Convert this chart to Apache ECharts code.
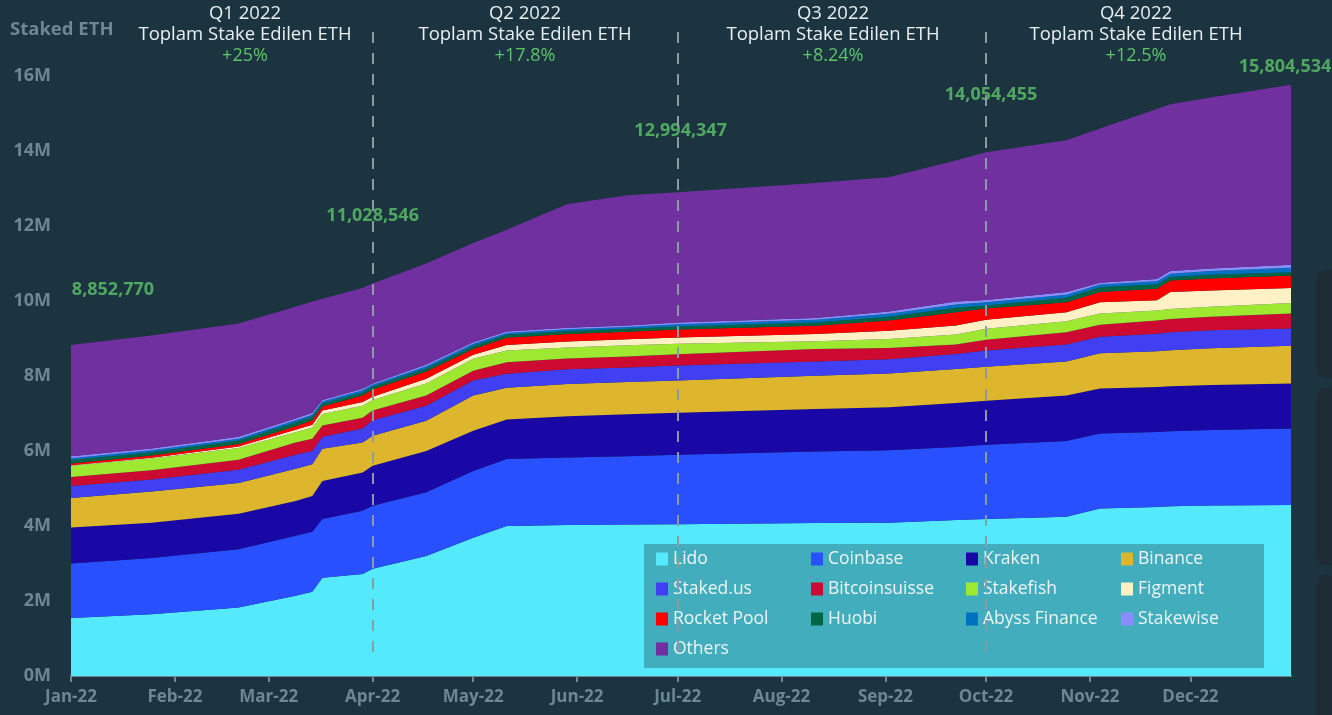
<!DOCTYPE html>
<html><head><meta charset="utf-8">
<script src="https://cdn.jsdelivr.net/npm/echarts@6/dist/echarts.min.js"></script>
<style>html,body{margin:0;padding:0;background:#1b3440;}#c{width:1332px;height:715px;}</style>
</head><body><div id="c"></div>
<script>
// ---- data (values in millions of ETH) ----
const dates = ['2022-01-01','2022-01-25','2022-02-20','2022-03-09','2022-03-14','2022-03-17','2022-03-29','2022-04-01',
  '2022-04-17','2022-05-01','2022-05-11','2022-05-29','2022-06-16','2022-07-01','2022-08-11','2022-09-02',
  '2022-09-22','2022-10-01','2022-10-25','2022-11-04','2022-11-21','2022-11-25','2022-12-07','2022-12-31'];
const seriesNames = ['Lido','Coinbase','Kraken','Binance','Staked.us','Bitcoinsuisse','Stakefish','Figment','Rocket Pool','Huobi','Abyss Finance','Stakewise','Others'];
const lido          = [1.55,1.65,1.83,2.14,2.25,2.62,2.72,2.86,3.20,3.69,4.00,4.03,4.04,4.05,4.08,4.09,4.16,4.19,4.25,4.47,4.51,4.53,4.55,4.56];
const coinbase      = [1.45,1.50,1.55,1.60,1.60,1.57,1.69,1.68,1.70,1.78,1.79,1.80,1.82,1.85,1.91,1.93,1.95,1.98,2.02,2.00,2.00,2.00,2.01,2.04];
const kraken        = [0.96,0.94,0.95,0.93,0.95,1.01,1.02,1.07,1.10,1.07,1.05,1.10,1.12,1.12,1.13,1.15,1.17,1.17,1.21,1.20,1.20,1.20,1.20,1.20];
const binance       = [0.79,0.83,0.82,0.86,0.85,0.86,0.80,0.80,0.81,0.94,0.85,0.86,0.86,0.86,0.89,0.90,0.91,0.91,0.91,0.94,0.95,0.96,0.98,1.01];
const stakedUs      = [0.32,0.32,0.35,0.37,0.35,0.32,0.37,0.41,0.40,0.40,0.37,0.39,0.39,0.40,0.38,0.38,0.40,0.43,0.45,0.44,0.47,0.48,0.48,0.46];
const bitcoinsuisse = [0.24,0.25,0.27,0.33,0.33,0.30,0.29,0.26,0.27,0.26,0.31,0.29,0.29,0.30,0.33,0.30,0.25,0.29,0.33,0.32,0.35,0.35,0.36,0.40];
const stakefish     = [0.30,0.31,0.31,0.27,0.30,0.31,0.32,0.28,0.32,0.32,0.31,0.29,0.30,0.28,0.21,0.24,0.27,0.29,0.29,0.30,0.27,0.27,0.27,0.28];
const figment       = [0.01,0.02,0.04,0.07,0.07,0.09,0.10,0.09,0.13,0.11,0.15,0.16,0.16,0.17,0.19,0.22,0.24,0.24,0.24,0.30,0.27,0.45,0.43,0.40];
const rocketPool    = [0.05,0.06,0.07,0.09,0.12,0.11,0.17,0.19,0.19,0.15,0.19,0.20,0.20,0.21,0.22,0.27,0.35,0.30,0.27,0.27,0.31,0.31,0.32,0.33];
const huobi         = [0.09,0.09,0.09,0.10,0.10,0.08,0.08,0.08,0.08,0.08,0.08,0.08,0.08,0.08,0.09,0.10,0.12,0.08,0.12,0.13,0.12,0.09,0.10,0.09];
const abyss         = [0.05,0.05,0.05,0.06,0.05,0.05,0.06,0.05,0.06,0.06,0.05,0.05,0.05,0.06,0.07,0.08,0.09,0.09,0.08,0.07,0.08,0.09,0.10,0.12];
const stakewise     = [0.05,0.05,0.05,0.05,0.05,0.04,0.04,0.03,0.05,0.04,0.04,0.04,0.04,0.05,0.05,0.06,0.08,0.06,0.07,0.05,0.06,0.07,0.07,0.08];
const others        = [2.97,3.01,3.02,2.98,2.97,2.70,2.69,2.67,2.69,2.65,2.71,3.29,3.47,3.47,3.60,3.58,3.76,3.94,4.05,4.11,4.53,4.45,4.56,4.80];
const seriesValues = [lido,coinbase,kraken,binance,stakedUs,bitcoinsuisse,stakefish,figment,rocketPool,huobi,abyss,stakewise,others];

const monthStarts = ['2022-01-01','2022-02-01','2022-03-01','2022-04-01','2022-05-01','2022-06-01','2022-07-01','2022-08-01','2022-09-01','2022-10-01','2022-11-01','2022-12-01'];
const monthLabels = ['Jan-22','Feb-22','Mar-22','Apr-22','May-22','Jun-22','Jul-22','Aug-22','Sep-22','Oct-22','Nov-22','Dec-22'];

const totalDates  = ['2022-01-01','2022-04-01','2022-07-01','2022-10-01','2022-12-31'];
const totalValues = [8852770, 11028546, 12994347, 14054455, 15804534];
const quarterStarts = ['2022-04-01','2022-07-01','2022-10-01'];
const quarterNames  = ['Q1 2022','Q2 2022','Q3 2022','Q4 2022'];
const quarterTitle  = 'Toplam Stake Edilen ETH';
const quarterGrowth = ['+25%','+17.8%','+8.24%','+12.5%'];

// ---- styles ----
const colors = ['#55eafb','#2850ff','#1a08a6','#ddb62e','#4040f2','#cc0a32','#9ee832','#fff0c6','#ff0000','#006644','#0070c0','#8a8cff','#7030a0'];
const FONT = '"Open Sans", sans-serif';
const GREY = '#6c8892';
const GREEN = '#5ec46a';

// day-of-year index for each date: the category axis has one slot per day of 2022
function dayOf(s){const p=s.split('-').map(Number);return (Date.UTC(p[0],p[1]-1,p[2])-Date.UTC(2022,0,1))/864e5;}
const yearDays = [];
for (let d = 0; d <= dayOf('2022-12-31'); d++) yearDays.push(String(d));
const days = dates.map(dayOf);
const monthDays = monthStarts.map(dayOf);

const chart = echarts.init(document.getElementById('c'));
const series = seriesNames.map((n,i)=>({
  name:n, type:'line', stack:'total', symbol:'none', smooth:false, connectNulls:true,
  lineStyle:{width:0}, areaStyle:{color:colors[i],opacity:1}, itemStyle:{color:colors[i]},
  data: seriesValues[i].map((v,j)=>[days[j],v])
}));
const labelOffsets = [[42,-54],[0,-47],[3,-58],[5,-54],[-6,-16]];
series.push({
  name:'totals', type:'scatter', symbolSize:1, itemStyle:{color:'rgba(0,0,0,0)'}, z:5, silent:true,
  data: totalDates.map((d,i)=>({value:[dayOf(d), totalValues[i]/1e6],
    label:{show:true, position:'inside', offset:labelOffsets[i],
      formatter: totalValues[i].toLocaleString('en-US'), color:GREEN, fontFamily:FONT, fontWeight:'bold', fontSize:18}}))
});

const isMonthStart = i => monthDays.indexOf(i) >= 0;
chart.setOption({
  animation:false,
  backgroundColor:'#1b3440',
  textStyle:{fontFamily:FONT},
  grid:{left:71, right:41, top:76, bottom:39},
  xAxis:{type:'category', data:yearDays, boundaryGap:false,
    axisLine:{show:true, lineStyle:{color:GREY, width:2}},
    axisTick:{show:true, interval:isMonthStart, length:6, lineStyle:{color:GREY, width:2}},
    axisLabel:{interval:isMonthStart, formatter:(v,idx)=>monthLabels[monthDays.indexOf(Number(v))], color:GREY, fontWeight:'bold', fontSize:17, margin:13, fontFamily:FONT},
    splitLine:{show:false}},
  yAxis:{type:'value', min:0, max:16, interval:2,
    axisLine:{show:false}, axisTick:{show:false}, splitLine:{show:false},
    axisLabel:{formatter:'{value}M', color:GREY, fontWeight:'bold', fontSize:18, margin:20, fontFamily:FONT}},
  legend:{data:seriesNames, left:644, top:544, width:612, orient:'horizontal',
    backgroundColor:'#41adbd', padding:[6,0,10,12], itemGap:12, itemWidth:12, itemHeight:13, icon:'rect',
    selectedMode:false,
    textStyle:{color:'#eef5f6', fontSize:17.5, fontFamily:FONT, width:126, lineHeight:17}},
  series: series
});

// ---- annotations ----
const g = [];
g.push({type:'text', x:10, y:30, z:100, style:{text:'Staked ETH', fill:GREY, font:'bold 18.5px '+FONT, textAlign:'left', textVerticalAlign:'middle', align:'left', verticalAlign:'middle'}});
const qCenters = [245, 525, 833, 1136];
quarterNames.forEach((q,i)=>{
  g.push({type:'text', x:qCenters[i], y:14, z:100, style:{text:q, fill:'#e8eff1', font:'18.5px '+FONT, textAlign:'center', textVerticalAlign:'middle', align:'center', verticalAlign:'middle'}});
  g.push({type:'text', x:qCenters[i], y:35, z:100, style:{text:quarterTitle, fill:'#e8eff1', font:'18.5px '+FONT, textAlign:'center', textVerticalAlign:'middle', align:'center', verticalAlign:'middle'}});
  g.push({type:'text', x:qCenters[i], y:56, z:100, style:{text:quarterGrowth[i], fill:GREEN, font:'18px '+FONT, textAlign:'center', textVerticalAlign:'middle', align:'center', verticalAlign:'middle'}});
});
quarterStarts.forEach(d=>{
  const px = Math.round(chart.convertToPixel({xAxisIndex:0}, dayOf(d)));
  g.push({type:'line', z:100, shape:{x1:px, y1:32, x2:px, y2:652}, style:{stroke:'#8a9ba2', lineWidth:2, lineDash:[11,10]}});
});
// right-edge dark panels
[[270,108],[388,177],[575,160]].forEach(p=>{
  g.push({type:'rect', z:100, shape:{x:1316, y:p[0], width:40, height:p[1], r:10}, style:{fill:'#1f2c35'}});
});
chart.setOption({graphic:g});
</script></body></html>
